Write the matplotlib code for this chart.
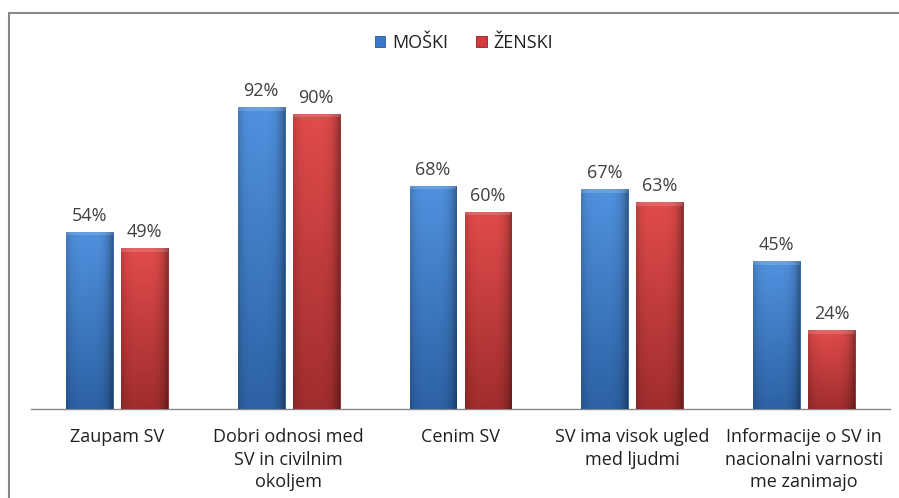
import matplotlib
matplotlib.use("Agg")
import matplotlib.pyplot as plt
import numpy as np
from matplotlib.patches import Rectangle

categories = ["Zaupam SV", "Dobri odnosi med\nSV in civilnim\nokoljem", "Cenim SV",
              "SV ima visok ugled\nmed ljudmi", "Informacije o SV in\nnacionalni varnosti\nme zanimajo"]
moski = [54, 92, 68, 67, 45]
zenski = [49, 90, 60, 63, 24]
series_names = ["MOŠKI", "ŽENSKI"]

plt.rcParams['font.family'] = ['Open Sans', 'DejaVu Sans']

fig = plt.figure(figsize=(8.99, 4.98), dpi=100)
W, H = 899, 498
ax = fig.add_axes([31 / W, (H - 409) / H, (890 - 31) / W, (409 - 81) / H])

x = np.arange(len(categories))
bw = 0.273
off = 0.16
b1 = ax.bar(x - off, moski, bw, color="#3b78c8", edgecolor="#2a5a9a", linewidth=0.6, label=series_names[0], zorder=3)
b2 = ax.bar(x + off, zenski, bw, color="#d23b3b", edgecolor="#8a2525", linewidth=0.6, label=series_names[1], zorder=3)


def shade(rects, top_rgb, bot_rgb):
    top = np.array(top_rgb) / 255.0
    bot = np.array(bot_rgb) / 255.0
    ny, nx = 64, 32
    ty = np.linspace(1, 0, ny)[:, None, None]
    base = bot + (top - bot) * ty
    xs = np.linspace(0, 1, nx)
    edge = 1 - 0.35 * (np.abs(xs - 0.45) / 0.55) ** 4
    img = np.clip(base * edge[None, :, None], 0, 1)
    img = np.broadcast_to(img, (ny, nx, 3)).copy()
    for r in rects:
        x0, w, h = r.get_x(), r.get_width(), r.get_height()
        im = ax.imshow(img, extent=(x0, x0 + w, 0, h), aspect="auto", zorder=3.5,
                       interpolation="bilinear", origin="upper")
        im.set_clip_path(r)
        ax.fill_between([x0, x0 + w], h - 1.0, h, color="white", alpha=0.15, zorder=3.6, lw=0)


shade(b1, (80, 145, 222), (45, 98, 165))
shade(b2, (225, 75, 75), (160, 45, 45))

for rects, vals in ((b1, moski), (b2, zenski)):
    for r, v in zip(rects, vals):
        ax.text(r.get_x() + r.get_width() / 2, v + 2.2, f"{v}%", ha="center", va="bottom",
                fontsize=13, color="#404040")

ax.set_xlim(-0.5, len(categories) - 0.5)
ax.set_ylim(0, 100)
ax.set_yticks([])
ax.set_xticks(x)
ax.set_xticklabels(categories, fontsize=13, color="#202020", linespacing=1.3)
ax.tick_params(axis="x", length=0, pad=14)
for s in ["top", "right", "left"]:
    ax.spines[s].set_visible(False)
ax.spines["bottom"].set_color("#888888")
ax.spines["bottom"].set_linewidth(1.0)

leg = fig.legend(handles=[b1, b2], labels=series_names, loc="center", bbox_to_anchor=(464 / W, (H - 43) / H),
                 ncol=2, frameon=False, fontsize=13, handlelength=0.6, handleheight=0.6,
                 handletextpad=0.4, columnspacing=1.5)
for t in leg.get_texts():
    t.set_color("#202020")

fig.patches.append(Rectangle((8.5 / W, -0.1), 2.0, (H - 13.5) / H + 0.1, transform=fig.transFigure,
                             fill=False, edgecolor="#888888", linewidth=1.5))

fig.savefig("out.png", dpi=100)
